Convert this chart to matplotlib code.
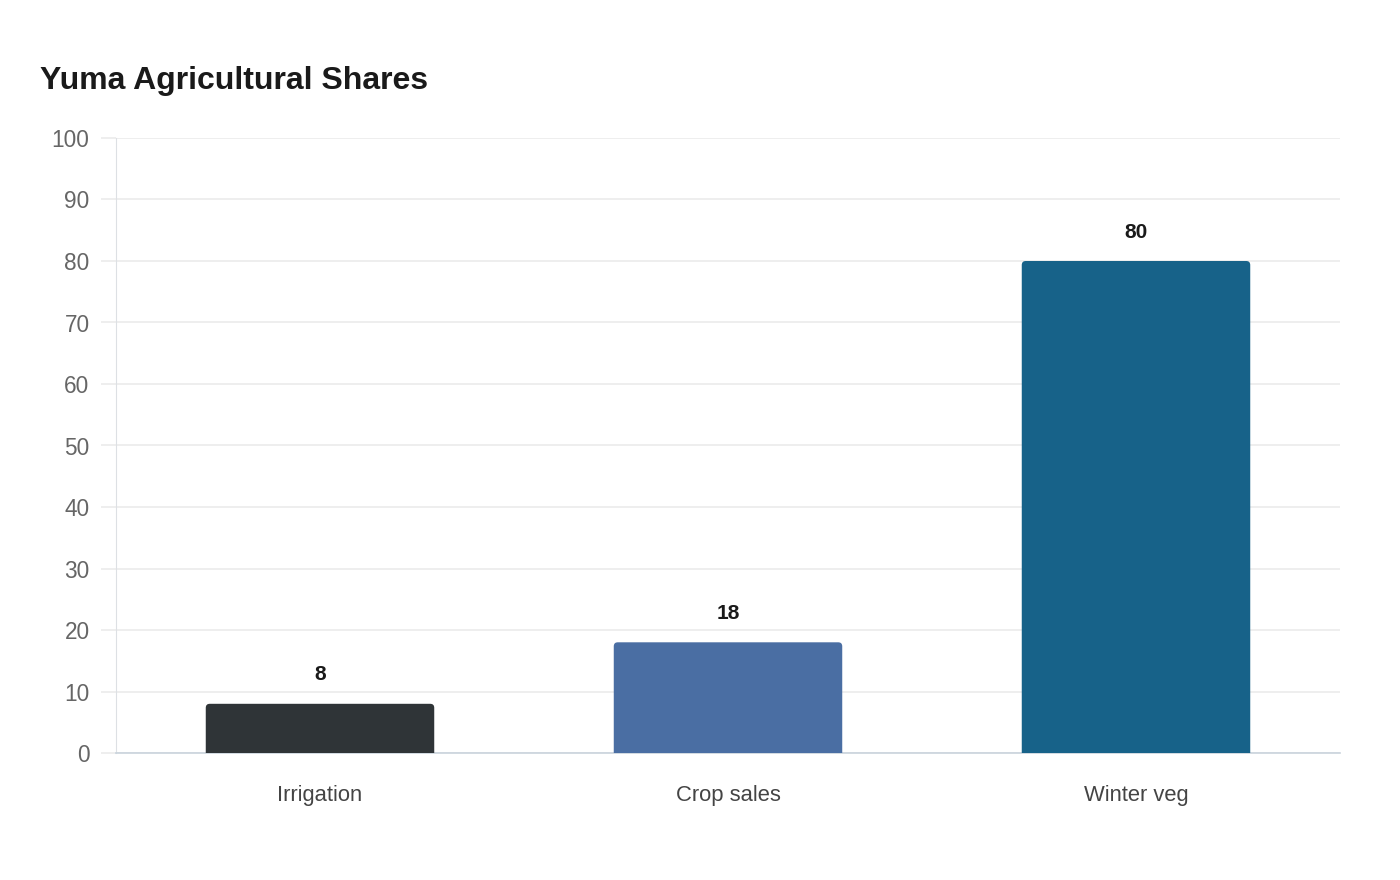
import matplotlib.pyplot as plt
from matplotlib.patches import FancyBboxPatch

plt.rcParams['font.family'] = ['Liberation Sans', 'DejaVu Sans']

categories = ["Irrigation", "Crop sales", "Winter veg"]
values = [8, 18, 80]
colors = ["#2f3437", "#4a6ea3", "#176289"]
y_ticks = [0, 10, 20, 30, 40, 50, 60, 70, 80, 90, 100]

fig = plt.figure(figsize=(14, 8.8), dpi=100)
ax = fig.add_axes([116 / 1400, 127 / 880, 1224 / 1400, 615 / 880])

x = range(len(categories))
bars = ax.bar(x, values, width=0.56, color=colors)

# swap plain bars for ones with rounded top corners
px_per_x = 1224 / 3
px_per_y = 615 / 100
for bar, c in zip(bars, colors):
    bar.set_visible(False)
    r = 4 / px_per_x
    patch = FancyBboxPatch(
        (bar.get_x(), -2), bar.get_width(), bar.get_height() + 2,
        boxstyle=f"round,pad=0,rounding_size={r}",
        mutation_aspect=px_per_x / px_per_y,
        facecolor=c, edgecolor="none", zorder=3,
    )
    ax.add_patch(patch)

for i, v in enumerate(values):
    ax.annotate(str(v), (i, v), xytext=(0, 29), textcoords="offset pixels",
                ha="center", va="center", fontsize=15, fontweight="bold",
                color="#1a1a1a")

ax.set_xlim(-0.5, 2.5)
ax.set_ylim(0, 100)
ax.set_yticks(y_ticks)
ax.set_xticks(list(x))
ax.set_xticklabels(categories)

ax.grid(axis="y", color="#ebebeb", linewidth=1.2, zorder=0)
ax.set_axisbelow(True)
for s in ["top", "right"]:
    ax.spines[s].set_visible(False)
ax.spines["left"].set_color("#dde0e4")
ax.spines["bottom"].set_color("#c9d3dc")
ax.spines["bottom"].set_linewidth(1.2)

ax.tick_params(axis="y", length=11, color="#ebebeb", width=1.2,
               labelsize=16.3, labelcolor="#666666", pad=8)
ax.tick_params(axis="x", length=0, labelsize=15.8, labelcolor="#444444", pad=23)

fig.text(40 / 1400, 1 - 81 / 880, "Yuma Agricultural Shares", fontsize=23,
         fontweight="bold", color="#1a1a1a", va="center", ha="left")

fig.savefig("out.png", dpi=100, facecolor="white")
